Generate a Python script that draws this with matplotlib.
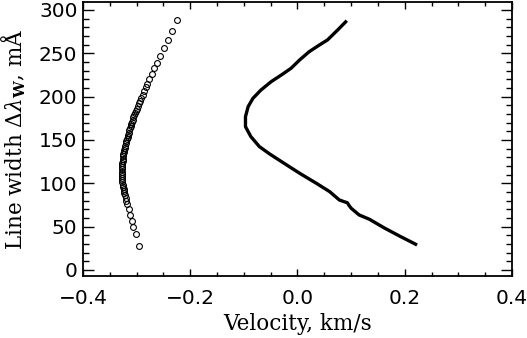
import matplotlib
matplotlib.use("Agg")
import matplotlib.pyplot as plt
from matplotlib.ticker import MultipleLocator

# Circle series (left curve)
circ_y = [288, 276, 265, 255.5, 247, 239, 232.5, 226, 220.5, 215, 210.5, 206, 202,
          198.5, 195, 192, 189, 186, 183.5, 181, 178.5, 176, 173.5, 171, 168.5, 166,
          163.5, 161, 158.5, 156, 153.5, 151, 148.5, 146, 143.5, 141, 138.5, 136,
          133.5, 131, 128.5, 126, 123.5, 121, 118.5, 116, 113.5, 111, 108.5, 106,
          103.5, 101, 98.5, 96, 93.5, 91, 88.5, 86, 83, 80, 76, 70, 63, 56, 49, 42, 28]
circ_x = [-0.225, -0.234, -0.242, -0.249, -0.256, -0.262, -0.267, -0.272, -0.276,
          -0.280, -0.283, -0.286, -0.289, -0.291, -0.293, -0.295, -0.297, -0.299,
          -0.301, -0.303, -0.304, -0.306, -0.307, -0.309, -0.310, -0.311, -0.313,
          -0.314, -0.315, -0.316, -0.317, -0.318, -0.319, -0.320, -0.321, -0.322,
          -0.323, -0.324, -0.325, -0.325, -0.326, -0.326, -0.327, -0.327, -0.327,
          -0.328, -0.328, -0.328, -0.328, -0.327, -0.327, -0.327, -0.326, -0.325,
          -0.324, -0.324, -0.323, -0.322, -0.320, -0.319, -0.318, -0.315, -0.312,
          -0.309, -0.306, -0.302, -0.295]

# Line series (right curve)
line_y = [287.5, 276.8, 265.3, 259.5, 251.8, 242.2, 232.6, 224.9, 217.2, 207.6, 198.0,
          188.4, 176.8, 165.3, 153.8, 142.2, 133.8, 123.8, 111.5, 100.0, 90.3, 80.7,
          78.5, 77.5, 74.5, 71.2, 63.4, 58.5, 48.4, 39.2, 28.8]
line_x = [0.092, 0.075, 0.056, 0.041, 0.022, 0.004, -0.012, -0.030, -0.049, -0.068,
          -0.083, -0.092, -0.097, -0.097, -0.087, -0.071, -0.052, -0.027, 0.004, 0.035,
          0.060, 0.078, 0.088, 0.093, 0.096, 0.100, 0.115, 0.134, 0.162, 0.190, 0.223]

xticks = [-0.4, -0.2, 0.0, 0.2, 0.4]
yticks = [0, 50, 100, 150, 200, 250, 300]

plt.rcParams['mathtext.fontset'] = 'dejavuserif'

fig = plt.figure(figsize=(5.27, 3.38), dpi=100)
ax = fig.add_axes([0.1575, 0.1834, 0.814, 0.8106])

ax.plot(line_x, line_y, color='black', lw=2.4, solid_capstyle='butt',
        solid_joinstyle='round')
ax.plot(circ_x, circ_y, linestyle='none', marker='o', ms=4.2, mfc='none',
        mec='black', mew=0.8)

ax.set_xlim(-0.4, 0.4)
ax.set_ylim(-7, 309)
ax.set_xticks(xticks)
ax.set_xticklabels(['\u22120.4', '\u22120.2', '0.0', '0.2', '0.4'])
ax.set_yticks(yticks)
ax.xaxis.set_minor_locator(MultipleLocator(0.05))
ax.yaxis.set_minor_locator(MultipleLocator(10))

ax.tick_params(which='both', direction='in', top=True, right=True,
               labelfontfamily='DejaVu Sans', labelsize=14.5, width=1.0)
ax.tick_params(axis='x', which='major', length=5, pad=9)
ax.tick_params(axis='x', which='minor', length=2.7)
ax.tick_params(axis='y', which='major', length=8, pad=4)
ax.tick_params(axis='y', which='minor', length=4)
for s in ax.spines.values():
    s.set_linewidth(1.3)

ax.set_xlabel('Velocity, km/s', family='DejaVu Serif', fontsize=15.5, labelpad=4)
ax.set_ylabel(r'Line width $\Delta\lambda_\mathbf{W}$, mÅ', family='DejaVu Serif',
              fontsize=15.5, labelpad=8)

fig.savefig('out.png', dpi=100)
